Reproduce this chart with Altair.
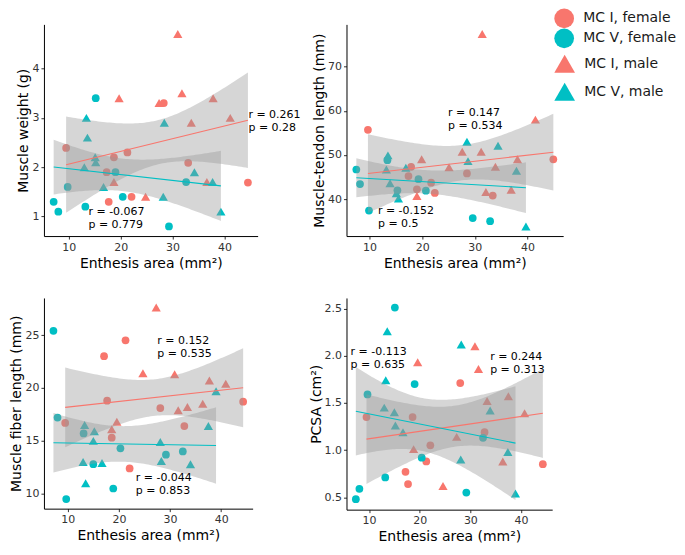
import altair as alt
import numpy as np
import pandas as pd

RED = "#F8766D"
TEAL = "#00BFC4"
FEMALE = ["MC I, female", "MC V, female"]
MALE = ["MC I, male", "MC V, male"]
XTICKS = [10, 20, 30, 40]

# ---- Panel A: Muscle weight (g)
A_I_F_X = [9.5, 17.3, 17.7, 18.7, 21.3, 22.1, 28.3, 33.0, 44.5]
A_I_F_Y = [2.39, 1.90, 1.30, 2.20, 2.30, 1.40, 3.30, 2.09, 1.69]
A_I_M_X = [18.7, 19.7, 24.8, 27.4, 31.0, 31.8, 33.6, 36.6, 37.8, 41.1]
A_I_M_Y = [1.7, 3.4, 1.4, 3.3, 4.7, 3.5, 2.9, 1.7, 3.4, 3.0]
A_V_F_X = [7.1, 8.0, 9.8, 13.2, 15.2, 19.0, 20.4, 29.3, 32.6]
A_V_F_Y = [1.3, 1.1, 1.6, 1.2, 3.4, 1.9, 1.4, 0.8, 1.7]
A_V_M_X = [13.0, 13.4, 13.6, 15.1, 15.2, 16.7, 28.2, 28.4, 34.2, 37.7, 39.3]
A_V_M_Y = [2.0, 3.0, 2.6, 2.2, 2.1, 1.6, 1.4, 2.9, 1.9, 1.7, 1.1]
A_NOTE_X = [44.6, 13.8]
A_NOTE_Y = [3.18, 1.21]
A_NOTE_T = ["r = 0.261\np = 0.28", "r = -0.067\np = 0.779"]

# ---- Panel B: Muscle-tendon length (mm)
B_I_F_X = [9.7, 17.4, 17.9, 19.0, 21.7, 22.4, 28.5, 33.4, 44.9]
B_I_F_Y = [55.7, 45.2, 47.3, 42.2, 43.7, 41.4, 45.8, 40.8, 49.0]
B_I_M_X = [19.0, 19.9, 25.1, 27.6, 31.2, 31.4, 32.1, 33.9, 36.9, 38.1, 41.5]
B_I_M_Y = [40.7, 49.0, 47.2, 50.7, 50.7, 77.4, 41.6, 47.3, 42.1, 49.0, 58.0]
B_V_F_X = [7.5, 8.2, 9.9, 13.4, 15.3, 19.3, 20.7, 29.6, 32.9]
B_V_F_Y = [46.7, 43.4, 37.4, 48.8, 42.0, 44.5, 41.9, 35.7, 35.0]
B_V_M_X = [13.2, 13.5, 13.9, 15.1, 15.5, 16.9, 28.5, 28.7, 34.4, 37.9, 39.7]
B_V_M_Y = [46.7, 49.9, 43.6, 41.3, 40.1, 47.1, 53.0, 48.6, 52.1, 46.4, 33.8]
B_NOTE_X = [24.9, 11.6]
B_NOTE_Y = [60.85, 38.6]
B_NOTE_T = ["r = 0.147\np = 0.534", "r = -0.152\np = 0.5"]

# ---- Panel C: Muscle fiber length (mm)
C_I_F_X = [9.5, 17.1, 17.7, 18.6, 21.3, 22.1, 28.1, 32.8, 44.3]
C_I_F_Y = [16.7, 23.0, 18.8, 15.3, 24.5, 12.4, 18.1, 16.4, 18.7]
C_I_M_X = [18.6, 19.6, 24.7, 27.3, 30.9, 31.6, 33.4, 36.4, 37.7, 40.9]
C_I_M_Y = [16.1, 16.8, 21.4, 27.6, 21.3, 17.9, 18.2, 18.5, 20.7, 20.4]
C_V_F_X = [7.2, 8.0, 9.7, 13.1, 15.0, 18.9, 20.3, 29.2, 32.5]
C_V_F_Y = [25.4, 17.2, 9.5, 15.7, 12.8, 10.5, 14.3, 13.7, 14.0]
C_V_M_X = [13.0, 13.3, 13.5, 15.0, 15.2, 16.7, 28.1, 28.3, 34.0, 37.5, 39.0]
C_V_M_Y = [13.0, 16.5, 11.0, 15.0, 15.9, 12.9, 14.9, 13.1, 12.8, 16.4, 19.7]
C_NOTE_X = [27.5, 23.3]
C_NOTE_Y = [25.0, 12.1]
C_NOTE_T = ["r = 0.152\np = 0.535", "r = -0.044\np = 0.853"]

# ---- Panel D: PCSA (cm²)
D_I_F_X = [9.5, 17.2, 17.7, 18.6, 21.3, 22.1, 28.0, 32.8, 44.3]
D_I_F_Y = [1.35, 0.77, 0.64, 1.35, 0.88, 1.05, 1.71, 1.19, 0.85]
D_I_M_X = [18.8, 19.6, 24.6, 27.3, 30.9, 31.6, 33.3, 36.4, 37.5, 40.7]
D_I_M_Y = [1.01, 1.93, 0.62, 1.14, 2.10, 1.86, 1.52, 0.88, 1.57, 1.39]
D_V_F_X = [7.4, 8.1, 9.7, 13.2, 15.1, 19.0, 20.4, 29.2, 32.5]
D_V_F_Y = [0.48, 0.59, 1.59, 0.71, 2.51, 1.70, 0.92, 0.55, 1.13]
D_V_M_X = [13.0, 13.3, 13.6, 15.0, 15.2, 16.7, 28.1, 28.2, 33.9, 37.4, 38.9]
D_V_M_Y = [1.45, 1.74, 2.26, 1.40, 1.26, 1.19, 0.90, 2.12, 1.42, 0.98, 0.54]
D_NOTE_X = [33.9, 6.36]
D_NOTE_Y = [2.047, 2.10]
D_NOTE_T = ["r = 0.244\np = 0.313", "r = -0.113\np = 0.635"]

T_CRIT = {17: 2.109816, 18: 2.100922}

LEG_X = 511


def points_df(ixf, iyf, ixm, iym, vxf, vyf, vxm, vym):
    rows = []
    for bone, sex, xs, ys in [("MC I", "female", ixf, iyf), ("MC I", "male", ixm, iym),
                              ("MC V", "female", vxf, vyf), ("MC V", "male", vxm, vym)]:
        for x, y in zip(xs, ys):
            rows.append({"x": x, "y": y, "bone": bone, "sex": sex, "group": f"{bone}, {sex}"})
    return pd.DataFrame(rows)


def band_df(df):
    out = []
    for bone, g in df.groupby("bone"):
        x = g["x"].to_numpy(float)
        y = g["y"].to_numpy(float)
        n = len(x)
        b1, b0 = np.polyfit(x, y, 1)
        resid = y - (b0 + b1 * x)
        s = np.sqrt((resid ** 2).sum() / (n - 2))
        xm = x.mean()
        sxx = ((x - xm) ** 2).sum()
        grid = np.linspace(x.min(), x.max(), 80)
        fit = b0 + b1 * grid
        se = s * np.sqrt(1.0 / n + (grid - xm) ** 2 / sxx)
        t = T_CRIT[n - 2]
        for gx, f, e in zip(grid, fit, se):
            out.append({"x": gx, "lo": f - t * e, "hi": f + t * e, "bone": bone})
    return pd.DataFrame(out)


def panel(df, nx, ny, nt, ytitle, yticks, yfmt, width, height):
    band = band_df(df)
    xr = df["x"].max() - df["x"].min()
    xdom = [df["x"].min() - 0.05 * xr, df["x"].max() + 0.05 * xr]
    ymin = min(df["y"].min(), band["lo"].min())
    ymax = max(df["y"].max(), band["hi"].max())
    yr = ymax - ymin
    ydom = [ymin - 0.05 * yr, ymax + 0.05 * yr]

    X = alt.X("x:Q", scale=alt.Scale(domain=xdom, nice=False, zero=False),
              axis=alt.Axis(values=XTICKS, title="Enthesis area (mm²)", titlePadding=4))

    def Y(field):
        return alt.Y(f"{field}:Q", scale=alt.Scale(domain=ydom, nice=False, zero=False),
                     axis=alt.Axis(values=yticks, format=yfmt, title=ytitle, titlePadding=1))

    base = alt.Chart(df)
    fem = base.transform_filter(alt.datum.sex == "female").mark_point(
        shape="circle", filled=True, size=60, opacity=1, strokeWidth=0
    ).encode(
        x=X, y=Y("y"),
        color=alt.Color("group:N", scale=alt.Scale(domain=FEMALE, range=[RED, TEAL]),
                        legend=alt.Legend(title=None, orient="none", legendX=LEG_X, legendY=-16,
                                          symbolType="circle", symbolSize=390, symbolStrokeWidth=0,
                                          labelFont="DejaVu Sans", labelFontSize=14,
                                          labelColor="#1a1a1a", labelOffset=9, rowPadding=0,
                                          padding=0)))
    mal = base.transform_filter(alt.datum.sex == "male").mark_point(
        shape="triangle-up", filled=True, size=85, opacity=1, strokeWidth=0
    ).encode(
        x=X, y=Y("y"),
        fill=alt.Fill("group:N", scale=alt.Scale(domain=MALE, range=[RED, TEAL]),
                      legend=alt.Legend(title=None, orient="none", legendX=LEG_X, legendY=29,
                                        symbolType="triangle-up", symbolSize=430, symbolStrokeWidth=0,
                                        labelFont="DejaVu Sans", labelFontSize=14,
                                        labelColor="#1a1a1a", labelOffset=9, rowPadding=8,
                                        padding=0)))
    bandc = alt.Chart(band).mark_area(color="#999999", opacity=0.4).encode(
        x=X, y=Y("lo"), y2="hi", detail="bone:N")
    line = base.transform_regression("x", "y", groupby=["bone"]).mark_line(strokeWidth=1.1).encode(
        x=X, y=Y("y"),
        stroke=alt.Stroke("bone:N", scale=alt.Scale(domain=["MC I", "MC V"], range=[RED, TEAL]),
                          legend=None))
    notes = pd.DataFrame({"x": nx, "ty": ny, "label": nt})
    text = alt.Chart(notes).mark_text(align="left", baseline="top", lineBreak="\n", fontSize=11,
                                      lineHeight=13, font="DejaVu Sans", color="black").encode(
        x=X, y=Y("ty"), text="label:N")
    return alt.layer(fem, mal, bandc, line, text).properties(width=width, height=height)


pA = panel(points_df(A_I_F_X, A_I_F_Y, A_I_M_X, A_I_M_Y, A_V_F_X, A_V_F_Y, A_V_M_X, A_V_M_Y),
           A_NOTE_X, A_NOTE_Y, A_NOTE_T, "Muscle weight (g)", [1, 2, 3, 4], "d", 214, 212)
pB = panel(points_df(B_I_F_X, B_I_F_Y, B_I_M_X, B_I_M_Y, B_V_F_X, B_V_F_Y, B_V_M_X, B_V_M_Y),
           B_NOTE_X, B_NOTE_Y, B_NOTE_T, "Muscle-tendon length (mm)", [40, 50, 60, 70], "d", 217, 212)
pC = panel(points_df(C_I_F_X, C_I_F_Y, C_I_M_X, C_I_M_Y, C_V_F_X, C_V_F_Y, C_V_M_X, C_V_M_Y),
           C_NOTE_X, C_NOTE_Y, C_NOTE_T, "Muscle fiber length (mm)", [10, 15, 20, 25], "d", 209, 211)
pD = panel(points_df(D_I_F_X, D_I_F_Y, D_I_M_X, D_I_M_Y, D_V_F_X, D_V_F_Y, D_V_M_X, D_V_M_Y),
           D_NOTE_X, D_NOTE_Y, D_NOTE_T, "PCSA (cm²)", [0.5, 1.0, 1.5, 2.0, 2.5], ".1f", 206, 212)

chart = alt.concat(
    pA, pB, pC, pD, columns=2, spacing={"row": 62, "column": 89}, bounds="flush", align="each"
).properties(
    padding={"left": 2, "top": 0, "right": 0, "bottom": 0}
).configure_view(stroke=None).configure_axis(
    domainColor="black", domainWidth=1, tickColor="#333333", tickSize=3, tickWidth=1,
    labelFont="DejaVu Sans", labelFontSize=11, labelColor="#333333", labelPadding=2,
    titleFont="DejaVu Sans", titleFontSize=14, titleFontWeight="normal", titleColor="black",
    grid=False,
)

chart.save("out.html", embed_options={"renderer": "svg", "actions": False})
